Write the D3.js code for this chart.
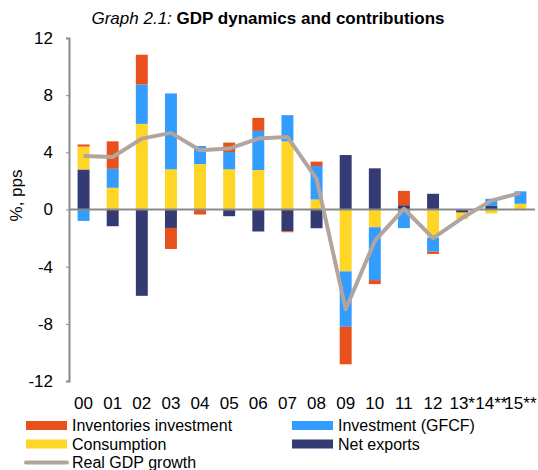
<!DOCTYPE html>
<html><head><meta charset="utf-8">
<script src="https://cdn.jsdelivr.net/npm/d3@7"></script>
<style>
body{margin:0;background:#fff;}
svg{display:block;font-family:"Liberation Sans",Arial,sans-serif;}
</style></head>
<body><div id="chart"></div>
<script>
const years = ["00","01","02","03","04","05","06","07","08","09","10","11","12","13*","14**","15**"];
const inventories = [0.15, 1.92, 2.08, -1.47, -0.35, 0.66, 0.91, -0.07, 0.31, -2.62, -0.28, 1.0, -0.16, 0, 0, 0];
const investment  = [-0.8, 1.33, 2.76, 5.31, 1.26, 1.21, 2.74, 1.83, 2.34, -3.88, -3.7, -1.3, -0.97, 0, 0.5, 0.87];
const consumption = [1.6, 1.52, 5.99, 2.81, 3.18, 2.81, 2.76, 4.77, 0.7, -4.33, -1.24, 0, -1.98, -0.45, -0.28, 0.4];
const netExports  = [2.8, -1.17, -6.04, -1.29, 0, -0.47, -1.54, -1.52, -1.31, 3.81, 2.88, 0.3, 1.1, -0.22, 0.25, 0];
const gdpGrowth   = [3.74, 3.67, 4.96, 5.36, 4.14, 4.26, 4.96, 5.08, 2.15, -6.97, -2.2, 0.05, -2.0, -0.6, 0.62, 1.16];
const yTicks = [-12, -8, -4, 0, 4, 8, 12];

const W = 538, H = 470;
const FS = 17, LFS = 16;
const svg = d3.select("#chart").append("svg").attr("width", W).attr("height", H);

const colors = {netExports:"#343b72", consumption:"#ffd526", investment:"#329cff", inventories:"#e8511b"};
const keys = ["netExports","consumption","investment","inventories"];
const rows = years.map((y,i)=>({year:y, netExports:netExports[i], consumption:consumption[i], investment:investment[i], inventories:inventories[i]}));

const x = d3.scaleBand().domain(years).range([69, 535]).padding(0);
const y = d3.scaleLinear().domain([-12, 12]).range([381, 38]);
const barW = x.bandwidth() * 0.41;

const stack = d3.stack().keys(keys).offset(d3.stackOffsetDiverging);
const series = stack(rows);

svg.append("g").selectAll("g").data(series).join("g")
  .attr("fill", d => colors[d.key])
  .selectAll("rect").data(d => d).join("rect")
  .attr("x", d => x(d.data.year) + (x.bandwidth() - barW)/2)
  .attr("width", barW)
  .attr("y", d => y(Math.max(d[0], d[1])))
  .attr("height", d => Math.abs(y(d[0]) - y(d[1])));

// zero line
svg.append("line").attr("x1", 69).attr("x2", 535).attr("y1", y(0)).attr("y2", y(0))
  .attr("stroke", "#8a8a8a").attr("stroke-width", 2);

// y axis
const yAxis = svg.append("g").attr("transform", "translate(69,0)")
  .call(d3.axisLeft(y).tickValues(yTicks).tickSize(3).tickPadding(13).tickFormat(d => String(d)));
yAxis.select(".domain").attr("stroke", "#8a8a8a").attr("stroke-width", 2);
yAxis.selectAll(".tick line").attr("stroke", "#8a8a8a");
yAxis.selectAll("text").attr("font-size", FS).attr("fill", "#000").style("font-family", "Liberation Sans, Arial, sans-serif");

svg.append("text").attr("transform", `translate(22,${y(0)-14}) rotate(-90)`)
  .attr("text-anchor", "middle").attr("font-size", FS).text("%, pps");

// x labels
svg.append("g").selectAll("text").data(years).join("text")
  .attr("x", d => x(d) + x.bandwidth()/2).attr("y", 409)
  .attr("text-anchor", "middle").attr("font-size", FS).text(d => d);

// GDP line
const line = d3.line().x((d,i) => x(years[i]) + x.bandwidth()/2).y(d => y(d));
svg.append("path").datum(gdpGrowth).attr("d", line)
  .attr("fill", "none").attr("stroke", "#b2a59e").attr("stroke-width", 4)
  .attr("stroke-linejoin", "round");

// title
const title = svg.append("text").attr("x", 268).attr("y", 24).attr("text-anchor", "middle").attr("font-size", FS);
title.append("tspan").attr("font-style", "italic").text("Graph 2.1: ");
title.append("tspan").attr("font-weight", "bold").text("GDP dynamics and contributions");

// legend
const legend = [
  {label:"Inventories investment", color:colors.inventories, lx:26, ly:425.5},
  {label:"Investment (GFCF)", color:colors.investment, lx:292, ly:425.5},
  {label:"Consumption", color:colors.consumption, lx:26, ly:444},
  {label:"Net exports", color:colors.netExports, lx:292, ly:444}
];
const lg = svg.append("g");
legend.forEach(l => {
  lg.append("rect").attr("x", l.lx).attr("y", l.ly-4.5).attr("width", 41).attr("height", 9).attr("fill", l.color);
  lg.append("text").attr("x", l.lx+46).attr("y", l.ly+5.8).attr("font-size", LFS).text(l.label);
});
lg.append("line").attr("x1", 26).attr("x2", 67).attr("y1", 462.5).attr("y2", 462.5)
  .attr("stroke", "#b2a59e").attr("stroke-width", 4).attr("stroke-linecap", "round");
lg.append("text").attr("x", 72).attr("y", 468.3).attr("font-size", LFS).text("Real GDP growth");
</script></body></html>
